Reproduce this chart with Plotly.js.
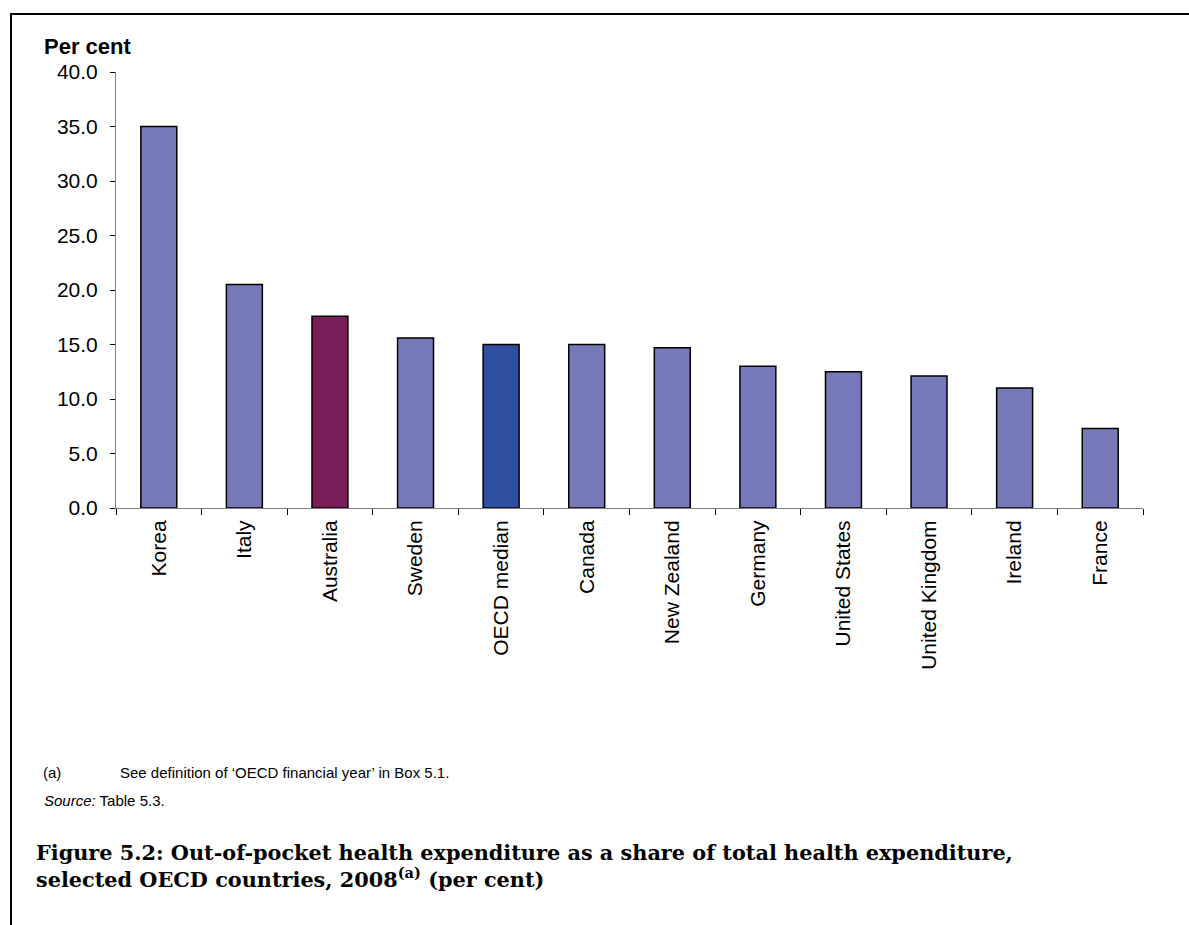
<!DOCTYPE html>
<html>
<head>
<meta charset="utf-8">
<script src="https://cdn.plot.ly/plotly-3.0.1.min.js"></script>
<style>
  html, body { margin: 0; padding: 0; background: #ffffff; }
  #wrap { position: relative; width: 1189px; height: 925px; }
  #frame { position: absolute; left: 10px; top: 13px; width: 1179px; height: 912px;
           border-top: 2px solid #000; border-left: 2px solid #000; box-sizing: border-box; pointer-events: none; }
  #chart { position: absolute; left: 0; top: 0; width: 1189px; height: 925px; }
</style>
</head>
<body>
<div id="wrap">
  <div id="chart"></div>
  <div id="frame"></div>
</div>
<script>
const countries = ["Korea", "Italy", "Australia", "Sweden", "OECD median", "Canada",
                   "New Zealand", "Germany", "United States", "United Kingdom", "Ireland", "France"];
const shares = [35.0, 20.5, 17.6, 15.6, 15.0, 15.0, 14.7, 13.0, 12.5, 12.1, 11.0, 7.3];
const yTickVals = [0, 5, 10, 15, 20, 25, 30, 35, 40];
const yTickText = ["0.0", "5.0", "10.0", "15.0", "20.0", "25.0", "30.0", "35.0", "40.0"];

const baseColor = "#7579B8";
const highlight = { "Australia": "#7A1E5A", "OECD median": "#304FA0" };
const colors = countries.map(c => highlight[c] || baseColor);

const font = "Liberation Sans, Arial, sans-serif";

// pixel helpers for the annotation placement (plot area: x 116..1143, y 72..508)
const px = x => (x - 116) / 1027;
const py = y => (508 - y) / 436;

const trace = {
  type: "bar",
  x: countries,
  y: shares,
  marker: { color: colors, line: { color: "#000000", width: 1.5 } },
  hoverinfo: "x+y"
};

const layout = {
  width: 1189,
  height: 925,
  margin: { l: 116, r: 46, t: 72, b: 417 },
  paper_bgcolor: "rgba(0,0,0,0)",
  plot_bgcolor: "#ffffff",
  showlegend: false,
  bargap: 0.58,
  font: { family: font, color: "#000000", size: 21 },
  xaxis: {
    type: "category",
    tickson: "boundaries",
    ticks: "outside",
    ticklen: 6,
    tickcolor: "#000000",
    tickwidth: 1,
    showline: true,
    linecolor: "#808080",
    linewidth: 1,
    showgrid: false,
    tickangle: -90,
    ticklabelstandoff: 3,
    tickfont: { family: font, size: 21, color: "#000000" }
  },
  yaxis: {
    range: [0, 40],
    tickvals: yTickVals,
    ticktext: yTickText,
    ticks: "outside",
    ticklen: 5,
    tickcolor: "#000000",
    tickwidth: 1,
    showline: true,
    linecolor: "#808080",
    linewidth: 1,
    showgrid: false,
    zeroline: false,
    ticklabelstandoff: 8,
    tickfont: { family: font, size: 21, color: "#000000" }
  },
  annotations: [
    { xref: "paper", yref: "paper", x: px(42), y: py(47), xanchor: "left", yanchor: "middle",
      text: "<b>Per cent</b>", showarrow: false, font: { family: font, size: 22, color: "#000" } },
    { xref: "paper", yref: "paper", x: px(41), y: py(773), xanchor: "left", yanchor: "middle",
      text: "(a)", showarrow: false, font: { family: font, size: 15, color: "#000" } },
    { xref: "paper", yref: "paper", x: px(118), y: py(773), xanchor: "left", yanchor: "middle",
      text: "See definition of ‘OECD financial year’ in Box 5.1.", showarrow: false,
      font: { family: font, size: 15, color: "#000" } },
    { xref: "paper", yref: "paper", x: px(42), y: py(800), xanchor: "left", yanchor: "middle",
      text: "<i>Source:</i> Table 5.3.", showarrow: false, font: { family: font, size: 15, color: "#000" } },
    { xref: "paper", yref: "paper", x: px(34), y: py(866), xanchor: "left", yanchor: "middle", align: "left",
      text: "<b>Figure 5.2: Out-of-pocket health expenditure as a share of total health expenditure,<br>selected OECD countries, 2008<sup>(a)</sup> (per cent)</b>",
      showarrow: false, font: { family: "DejaVu Serif, serif", size: 20.8, color: "#000" } }
  ]
};

Plotly.newPlot("chart", [trace], layout, { displayModeBar: false, staticPlot: true });
</script>
</body>
</html>
